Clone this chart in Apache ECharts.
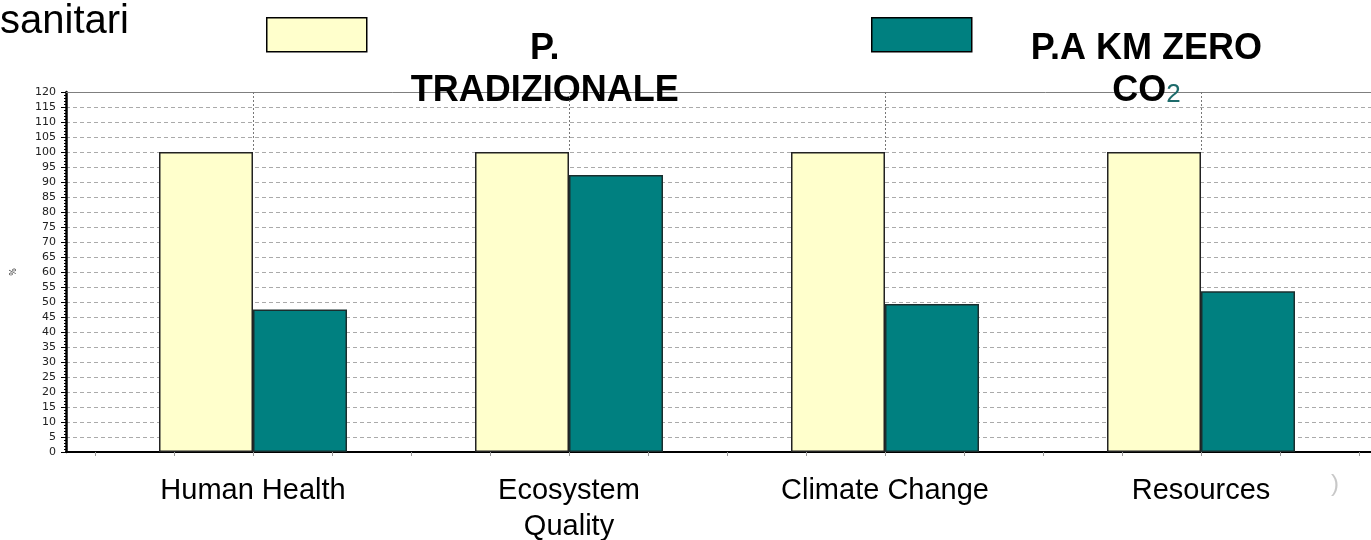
<!DOCTYPE html>
<html>
<head>
<meta charset="utf-8">
<script src="https://cdn.jsdelivr.net/npm/echarts@6/dist/echarts.min.js"></script>
<style>
  html, body { margin: 0; padding: 0; background: #fff; }
  #chart { width: 1371px; height: 540px; }
</style>
</head>
<body>
<div id="chart"></div>
<script>
// dati
const categories = ['Human Health', 'Ecosystem\nQuality', 'Climate Change', 'Resources']
const seriesNames = ['P. TRADIZIONALE', 'P.A KM ZERO CO2']
const tradValues = [100, 100, 100, 100]
const kmZeroValues = [47.5, 92.3, 49.3, 53.6]
const yMin = 0
const yMax = 120
const yStep = 5

const font = '"Liberation Sans", Arial, sans-serif'

const myEcharts = echarts.init(document.getElementById('chart'))

const option = {
  animation: false,
  backgroundColor: '#fff',
  graphic: [
    {
      type: 'text',
      left: 0,
      top: 2,
      style: { text: 'sanitari', font: '40px ' + font, fill: '#000' },
    },
    {
      // segno residuo a destra di "Resources"
      type: 'text',
      left: 1331,
      top: 472,
      style: { text: ')', font: '24px ' + font, fill: '#c8c8c8' },
    },
  ],
  legend: [
    {
      data: [seriesNames[0]],
      left: 266,
      top: 17,
      padding: 0,
      itemWidth: 100,
      itemHeight: 34,
      icon: 'rect',
      selectedMode: false,
      itemStyle: { borderColor: '#000', borderWidth: 1.5 },
      formatter: () => '{a|P.}\n{a|TRADIZIONALE}',
      textStyle: {
        padding: [70, 0, 0, 39],
        rich: {
          a: { fontFamily: font, fontSize: 36, fontWeight: 'bold', color: '#000', lineHeight: 42, align: 'center' },
        },
      },
    },
    {
      data: [seriesNames[1]],
      left: 871,
      top: 17,
      padding: 0,
      itemWidth: 100,
      itemHeight: 34,
      icon: 'rect',
      selectedMode: false,
      itemStyle: { borderColor: '#000', borderWidth: 1.5 },
      formatter: () => '{a|P.A KM ZERO}\n{a|CO}{s|2}',
      textStyle: {
        padding: [70, 0, 0, 54],
        rich: {
          a: { fontFamily: font, fontSize: 36, fontWeight: 'bold', color: '#000', lineHeight: 42, align: 'center' },
          s: { fontFamily: font, fontSize: 26, color: '#1d6b6b', lineHeight: 42, align: 'center', padding: [8, 0, 0, 0] },
        },
      },
    },
  ],
  grid: [
    // cornice: asse y, griglia, linea base
    { left: 66, right: -10, top: 92, bottom: 88, outerBoundsMode: 'none', containLabel: false },
    // barre
    { left: 95, right: 12, top: 92, bottom: 88, outerBoundsMode: 'none', containLabel: false },
  ],
  xAxis: [
    {
      gridIndex: 0,
      type: 'value',
      min: 0,
      max: 1,
      position: 'bottom',
      axisLine: { show: true, onZero: false, lineStyle: { color: '#000', width: 2 } },
      axisTick: { show: false },
      axisLabel: { show: false },
      splitLine: { show: false },
    },
    {
      gridIndex: 0,
      type: 'value',
      min: 0,
      max: 1,
      position: 'top',
      axisLine: { show: true, onZero: false, lineStyle: { color: '#7f7f7f', width: 1 } },
      axisTick: { show: false },
      axisLabel: { show: false },
      splitLine: { show: false },
    },
    {
      gridIndex: 1,
      type: 'category',
      data: categories,
      position: 'bottom',
      axisLine: { show: false, onZero: false },
      axisTick: { show: false },
      axisLabel: {
        interval: 0,
        fontFamily: font,
        fontSize: 29,
        lineHeight: 36,
        color: '#000',
        margin: 21,
      },
    },
    {
      gridIndex: 1,
      type: 'value',
      min: 0,
      max: 16,
      interval: 1,
      position: 'bottom',
      axisLine: { show: false, onZero: false },
      axisTick: { show: true, length: 4, lineStyle: { color: '#999' } },
      axisLabel: { show: false },
      splitLine: { show: false },
    },
  ],
  yAxis: [
    {
      gridIndex: 0,
      type: 'value',
      min: yMin,
      max: yMax,
      interval: yStep,
      name: '%',
      nameLocation: 'middle',
      nameRotate: 90,
      nameGap: 48,
      nameTextStyle: { fontFamily: 'DejaVu Sans', fontSize: 8, color: '#333' },
      axisLine: { show: true, onZero: false, lineStyle: { color: '#000', width: 2.5 } },
      axisTick: { show: true, length: 5, lineStyle: { color: '#000' } },
      minorTick: { show: true, splitNumber: 5, length: 2, lineStyle: { color: '#000' } },
      axisLabel: { fontFamily: 'DejaVu Sans', fontSize: 11, color: '#222', margin: 10 },
      splitLine: { show: true, lineStyle: { type: [4, 3], color: '#aaa', width: 1 } },
    },
    {
      gridIndex: 1,
      type: 'value',
      min: yMin,
      max: yMax,
      show: false,
    },
  ],
  series: [
    {
      name: seriesNames[0],
      type: 'bar',
      xAxisIndex: 2,
      yAxisIndex: 1,
      data: tradValues,
      barWidth: 94,
      barGap: '0%',
      itemStyle: { color: '#ffffcc', borderColor: '#222', borderWidth: 1.5 },
    },
    {
      name: seriesNames[1],
      type: 'bar',
      xAxisIndex: 2,
      yAxisIndex: 1,
      data: kmZeroValues,
      barWidth: 94,
      barGap: '0%',
      itemStyle: { color: '#008080', borderColor: '#1a2e2e', borderWidth: 1.5 },
    },
    {
      // linee verticali punteggiate al centro di ogni categoria
      name: 'griglia',
      type: 'line',
      xAxisIndex: 2,
      yAxisIndex: 1,
      data: [],
      z: 1,
      markLine: {
        silent: true,
        symbol: ['none', 'none'],
        label: { show: false },
        lineStyle: { color: '#777', type: [2, 2], width: 1 },
        data: categories.map((c, i) => [
          { coord: [c, yMax] },
          { coord: [c, Math.max(tradValues[i], kmZeroValues[i])] },
        ]),
      },
    },
  ],
}

myEcharts.setOption(option)
</script>
</body>
</html>
